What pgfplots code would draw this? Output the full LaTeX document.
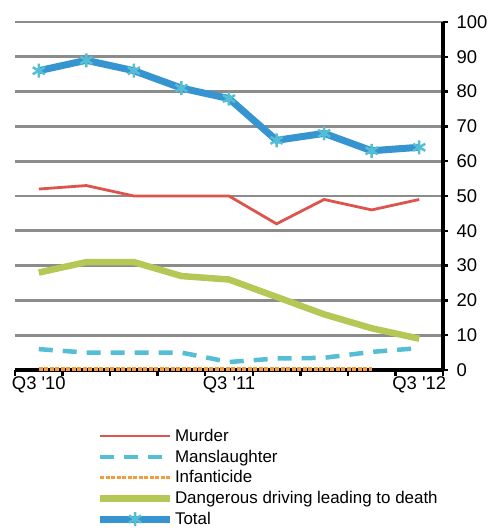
\documentclass[border=0pt]{standalone}
\usepackage{pgfplots}
\pgfplotsset{compat=1.18}
\usepackage{fontspec}
\setmainfont{Liberation Sans}

\definecolor{murder}{RGB}{221,84,77}
\definecolor{mansl}{RGB}{86,190,212}
\definecolor{infant}{RGB}{244,155,62}
\definecolor{driving}{RGB}{181,199,85}
\definecolor{total}{RGB}{54,148,208}
\definecolor{gridgray}{RGB}{140,140,140}

\begin{document}
\begin{tikzpicture}
\begin{axis}[
  scale only axis,
  width=428bp,
  height=348bp,
  xmin=-0.5, xmax=8.5,
  ymin=0, ymax=100,
  axis x line*=bottom,
  axis y line*=right,
  axis line style={black, line width=3.5bp},
  xtick={0,4,8},
  xticklabels={Q3 \textquotesingle10, Q3 \textquotesingle11, Q3 \textquotesingle12},
  minor xtick={-0.5,0.5,...,8.5},
  ytick={0,10,...,100},
  tick align=outside,
  major x tick style={draw=none},
  minor x tick style={black, line width=2.5bp},
  minor tick length=6bp,
  major y tick style={black, line width=2.5bp},
  major tick length=5bp,
  ymajorgrids,
  major grid style={gridgray, line width=2.8bp},
  ticklabel style={font=\fontsize{18.5}{20}\selectfont},
  /pgf/number format/assume math mode=true,
  xticklabel style={yshift=2bp},
  yticklabel style={xshift=5bp},
  legend style={at={(rel axis cs:0.19,-0.165)}, anchor=north west, draw=none, fill=none,
    font=\fontsize{17}{18}\selectfont, row sep=4bp, inner sep=0pt,
    nodes={inner sep=1.5bp}},
  legend cell align=left,
  legend image code/.code={\draw[mark repeat=2, mark phase=2, #1] plot coordinates {(0bp,0bp) (35bp,0bp) (70bp,0bp)};},
  clip=false,
]
\addplot[murder, line width=2.8bp] coordinates {
  (0,52) (1,53) (2,50) (3,50) (4,50) (5,42) (6,49) (7,46) (8,49)};
\addlegendentry{Murder}
\addplot[mansl, line width=4.5bp, dash pattern=on 14bp off 10bp] coordinates {
  (0,6) (1,5) (2,5) (3,5) (4,2.3) (5,3.3) (6,3.5) (7,5.2) (8,6.3)};
\addlegendentry{Manslaughter}
\addplot[infant, line width=3.5bp, dash pattern=on 4bp off 1.5bp] coordinates {
  (0,0.3) (1,0.3) (2,0.3) (3,0.3) (4,0.3) (5,0.3) (6,0.3) (7,0.3)};
\addlegendentry{Infanticide}
\addplot[driving, line width=6.5bp] coordinates {
  (0,28) (1,31) (2,31) (3,27) (4,26) (5,21) (6,16) (7,12) (8,9)};
\addlegendentry{Dangerous driving leading to death}
\addplot[total, line width=7bp, mark=asterisk, mark size=7bp,
  mark options={mansl, line width=2.5bp, solid}] coordinates {
  (0,86) (1,89) (2,86) (3,81) (4,78) (5,66) (6,68) (7,63) (8,64)};
\addlegendentry{Total}
\end{axis}
\pgfresetboundingbox
\path ([shift={(-15bp,-159bp)}]current axis.south west) rectangle ([shift={(482bp,370bp)}]current axis.south west);
\end{tikzpicture}
\end{document}
